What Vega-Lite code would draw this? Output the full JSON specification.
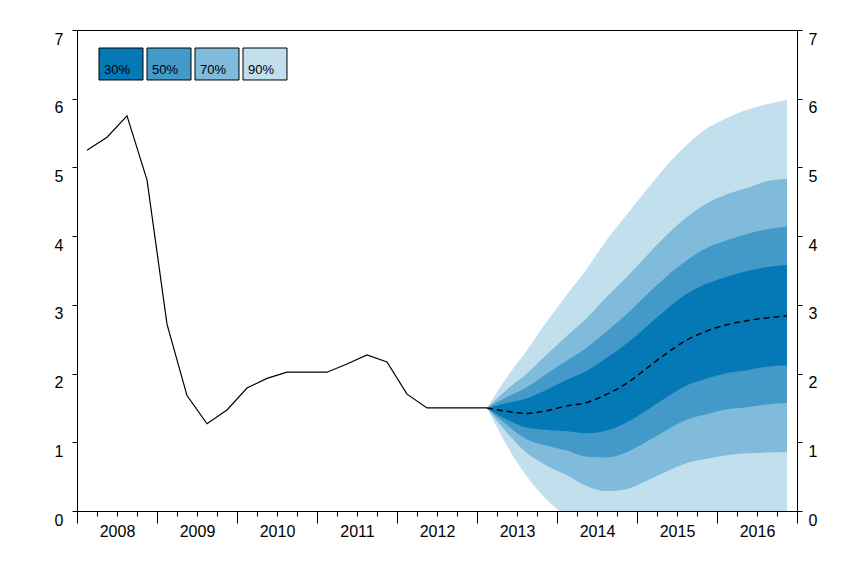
{
  "$schema": "https://vega.github.io/schema/vega-lite/v6.json",
  "width": 720,
  "height": 481,
  "autosize": {"type": "none"},
  "padding": {"left": 77, "top": 30, "right": 58, "bottom": 52},
  "background": "white",
  "config": {
    "view": {"stroke": "black", "strokeWidth": 1},
    "axis": {"labelFont": "Liberation Sans", "labelFontSize": 16, "labelColor": "black", "domainColor": "black", "tickColor": "black", "grid": false, "title": null},
    "legend": {"symbolOpacity": 1}
  },
  "datasets": {
    "hist": [
      {"t": 2008.125, "v": 5.25}, {"t": 2008.375, "v": 5.44}, {"t": 2008.625, "v": 5.75}, {"t": 2008.875, "v": 4.82},
      {"t": 2009.125, "v": 2.72}, {"t": 2009.375, "v": 1.68}, {"t": 2009.625, "v": 1.27}, {"t": 2009.875, "v": 1.47},
      {"t": 2010.125, "v": 1.79}, {"t": 2010.375, "v": 1.93}, {"t": 2010.625, "v": 2.02}, {"t": 2010.875, "v": 2.02},
      {"t": 2011.125, "v": 2.02}, {"t": 2011.375, "v": 2.14}, {"t": 2011.625, "v": 2.27}, {"t": 2011.875, "v": 2.17},
      {"t": 2012.125, "v": 1.70}, {"t": 2012.375, "v": 1.50}, {"t": 2012.625, "v": 1.50}, {"t": 2012.875, "v": 1.50},
      {"t": 2013.125, "v": 1.50}
    ],
    "fan": [
      {"t": 2013.125, "med": 1.50, "lo30": 1.50, "hi30": 1.50, "lo50": 1.50, "hi50": 1.50, "lo70": 1.50, "hi70": 1.50, "lo90": 1.50, "hi90": 1.50},
      {"t": 2013.375, "med": 1.45, "lo30": 1.33, "hi30": 1.57, "lo50": 1.25, "hi50": 1.66, "lo70": 1.14, "hi70": 1.77, "lo90": 0.95, "hi90": 1.95},
      {"t": 2013.625, "med": 1.42, "lo30": 1.21, "hi30": 1.64, "lo50": 1.04, "hi50": 1.80, "lo70": 0.84, "hi70": 2.00, "lo90": 0.50, "hi90": 2.34},
      {"t": 2013.875, "med": 1.46, "lo30": 1.18, "hi30": 1.77, "lo50": 0.95, "hi50": 2.00, "lo70": 0.66, "hi70": 2.28, "lo90": 0.16, "hi90": 2.76},
      {"t": 2014.125, "med": 1.53, "lo30": 1.16, "hi30": 1.91, "lo50": 0.88, "hi50": 2.19, "lo70": 0.52, "hi70": 2.55, "lo90": -0.09, "hi90": 3.15},
      {"t": 2014.375, "med": 1.58, "lo30": 1.13, "hi30": 2.04, "lo50": 0.79, "hi50": 2.38, "lo70": 0.36, "hi70": 2.81, "lo90": -0.37, "hi90": 3.53},
      {"t": 2014.625, "med": 1.70, "lo30": 1.17, "hi30": 2.23, "lo50": 0.78, "hi50": 2.62, "lo70": 0.29, "hi70": 3.12, "lo90": -0.55, "hi90": 3.95},
      {"t": 2014.875, "med": 1.86, "lo30": 1.29, "hi30": 2.44, "lo50": 0.86, "hi50": 2.87, "lo70": 0.32, "hi70": 3.41, "lo90": -0.60, "hi90": 4.32},
      {"t": 2015.125, "med": 2.08, "lo30": 1.47, "hi30": 2.69, "lo50": 1.01, "hi50": 3.15, "lo70": 0.44, "hi70": 3.72, "lo90": -0.52, "hi90": 4.68},
      {"t": 2015.375, "med": 2.30, "lo30": 1.66, "hi30": 2.94, "lo50": 1.18, "hi50": 3.42, "lo70": 0.58, "hi70": 4.02, "lo90": -0.43, "hi90": 5.03},
      {"t": 2015.625, "med": 2.49, "lo30": 1.83, "hi30": 3.16, "lo50": 1.33, "hi50": 3.65, "lo70": 0.70, "hi70": 4.28, "lo90": -0.35, "hi90": 5.33},
      {"t": 2015.875, "med": 2.62, "lo30": 1.93, "hi30": 3.31, "lo50": 1.41, "hi50": 3.83, "lo70": 0.76, "hi70": 4.48, "lo90": -0.33, "hi90": 5.57},
      {"t": 2016.125, "med": 2.71, "lo30": 2.01, "hi30": 3.41, "lo50": 1.48, "hi50": 3.94, "lo70": 0.81, "hi70": 4.61, "lo90": -0.30, "hi90": 5.72},
      {"t": 2016.375, "med": 2.77, "lo30": 2.05, "hi30": 3.49, "lo50": 1.51, "hi50": 4.03, "lo70": 0.84, "hi70": 4.70, "lo90": -0.30, "hi90": 5.84},
      {"t": 2016.625, "med": 2.81, "lo30": 2.10, "hi30": 3.55, "lo50": 1.55, "hi50": 4.10, "lo70": 0.85, "hi70": 4.80, "lo90": -0.30, "hi90": 5.92},
      {"t": 2016.875, "med": 2.84, "lo30": 2.12, "hi30": 3.58, "lo50": 1.57, "hi50": 4.14, "lo70": 0.86, "hi70": 4.83, "lo90": -0.30, "hi90": 5.98}
    ]
  },
  "encoding": {
    "x": {
      "field": "t", "type": "quantitative",
      "scale": {"domain": [2008, 2017], "nice": false, "zero": false},
      "axis": null
    }
  },
  "layer": [
    {
      "data": {"name": "fan"},
      "mark": {"type": "area", "opacity": 1, "clip": true, "interpolate": "monotone"},
      "encoding": {
        "x": {
          "field": "t", "type": "quantitative",
          "scale": {"domain": [2008, 2017], "nice": false, "zero": false},
          "axis": {"orient": "bottom", "values": [2008, 2009, 2010, 2011, 2012, 2013, 2014, 2015, 2016, 2017], "tickSize": 12, "labels": false, "domain": true, "title": null}
        },
        "y": {"field": "lo90", "type": "quantitative", "scale": {"domain": [0, 7], "nice": false}, "axis": null},
        "y2": {"field": "hi90"},
        "color": {
          "datum": "90%",
          "scale": {"domain": ["30%", "50%", "70%", "90%"], "range": ["#0479b5", "#4399c8", "#80bbdb", "#c2dfee"]},
          "legend": {
            "orient": "none", "legendX": 23, "legendY": 13,
            "direction": "horizontal", "columns": 4, "title": null,
            "symbolType": "M-1.073,-0.78H1.073V0.78H-1.073Z", "symbolSize": 1681,
            "symbolStrokeColor": "black", "symbolStrokeWidth": 1,
            "labelOffset": -38, "labelBaseline": "top", "labelFont": "Liberation Sans", "labelFontSize": 13,
            "labelColor": "black", "columnPadding": 0, "padding": 0, "rowPadding": 0
          }
        }
      }
    },
    {
      "data": {"name": "fan"},
      "mark": {"type": "area", "opacity": 1, "clip": true, "interpolate": "monotone"},
      "encoding": {
        "x": {
          "field": "t", "type": "quantitative",
          "axis": {
            "orient": "bottom",
            "values": [2008.25, 2008.5, 2008.75, 2009.25, 2009.5, 2009.75, 2010.25, 2010.5, 2010.75, 2011.25, 2011.5, 2011.75, 2012.25, 2012.5, 2012.75, 2013.25, 2013.5, 2013.75, 2014.25, 2014.5, 2014.75, 2015.25, 2015.5, 2015.75, 2016.25, 2016.5, 2016.75],
            "tickSize": 5,
            "labelExpr": "datum.value % 1 === 0.5 ? toString(floor(datum.value)) : ''",
            "labelOverlap": false,
            "labelFlush": false,
            "labelPadding": 7,
            "domain": false,
            "title": null
          }
        },
        "y": {"field": "lo70", "type": "quantitative", "axis": null},
        "y2": {"field": "hi70"},
        "color": {"datum": "70%"}
      }
    },
    {
      "data": {"name": "fan"},
      "mark": {"type": "area", "opacity": 1, "clip": true, "interpolate": "monotone"},
      "encoding": {
        "y": {"field": "lo50", "type": "quantitative", "axis": null},
        "y2": {"field": "hi50"},
        "color": {"datum": "50%"}
      }
    },
    {
      "data": {"name": "fan"},
      "mark": {"type": "area", "opacity": 1, "clip": true, "interpolate": "monotone"},
      "encoding": {
        "y": {"field": "lo30", "type": "quantitative", "axis": null},
        "y2": {"field": "hi30"},
        "color": {"datum": "30%"}
      }
    },
    {
      "data": {"name": "hist"},
      "mark": {"type": "line", "color": "black", "strokeWidth": 1.2},
      "encoding": {
        "y": {"field": "v", "type": "quantitative", "axis": {"orient": "left", "values": [0, 1, 2, 3, 4, 5, 6, 7], "tickSize": 5, "labelPadding": 9, "labelBaseline": "top", "labelOffset": 1, "title": null}}
      }
    },
    {
      "data": {"name": "fan"},
      "mark": {"type": "line", "color": "black", "strokeWidth": 1.5, "strokeDash": [6, 4], "interpolate": "monotone"},
      "encoding": {
        "y": {"field": "med", "type": "quantitative", "axis": {"orient": "right", "values": [0, 1, 2, 3, 4, 5, 6, 7], "tickSize": 5, "labelPadding": 6, "labelBaseline": "top", "labelOffset": 1, "title": null}}
      }
    }
  ],
  "resolve": {"axis": {"x": "independent", "y": "independent"}}
}
